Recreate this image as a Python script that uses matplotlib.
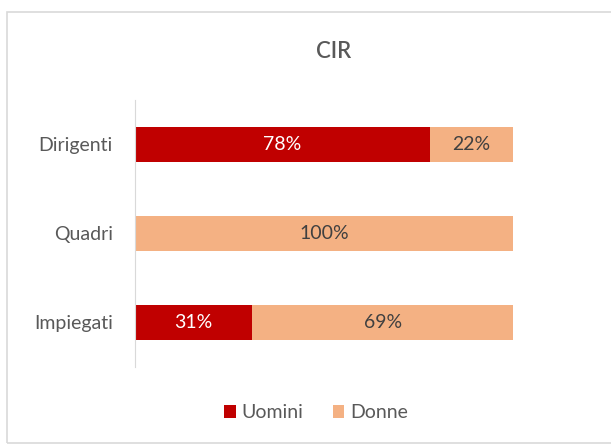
import numpy as np
import matplotlib.pyplot as plt
from matplotlib.patches import Rectangle

categories = ["Dirigenti", "Quadri", "Impiegati"]
uomini = [0.78, 0.0, 0.31]
donne = [0.22, 1.0, 0.69]
series_names = ["Uomini", "Donne"]

red = "#C00000"
salmon = "#F4B183"
grey = "#595959"

plt.rcParams['font.family'] = ['Lato', 'DejaVu Sans']

fig = plt.figure(figsize=(6.11, 4.47), dpi=100)
fig.patches.append(Rectangle((7/611, 4/447), 1.0, 431/447, transform=fig.transFigure,
                             fill=False, edgecolor="#D9D9D9", linewidth=1.2))
ax = fig.add_axes([135/611, 1 - 367/447, 378/611, 267/447])

y = np.arange(len(categories))
h = 0.40
ax.barh(y, uomini, height=h, color=red, label=series_names[0])
ax.barh(y, donne, left=uomini, height=h, color=salmon, label=series_names[1])

for i in range(len(categories)):
    if uomini[i] > 0:
        ax.text(uomini[i] / 2, y[i], f"{uomini[i]*100:.0f}%", ha="center", va="center",
                color="white", fontsize=14)
    if donne[i] > 0:
        ax.text(uomini[i] + donne[i] / 2, y[i], f"{donne[i]*100:.0f}%", ha="center", va="center",
                color="#404040", fontsize=14)

ax.set_xlim(0, 1)
ax.set_ylim(len(categories) - 0.5, -0.5)
ax.set_yticks(y)
ax.set_yticklabels(categories, fontsize=14, color=grey)
ax.set_xticks([])
ax.tick_params(axis="y", length=0, pad=16)
for s in ["top", "right", "bottom"]:
    ax.spines[s].set_visible(False)
ax.spines["left"].set_color("#D9D9D9")

fig.text(334/611, 1 - 52/447, "CIR", ha="center", va="center", fontsize=16,
         color=grey, fontweight="semibold")

fig.legend(loc="center", bbox_to_anchor=(316/611, 1 - 413/447), ncol=2, frameon=False,
           fontsize=14, handlelength=0.6, handleheight=0.6, handletextpad=0.3,
           columnspacing=1.5, labelcolor=grey)

fig.savefig("out.png", dpi=100)
